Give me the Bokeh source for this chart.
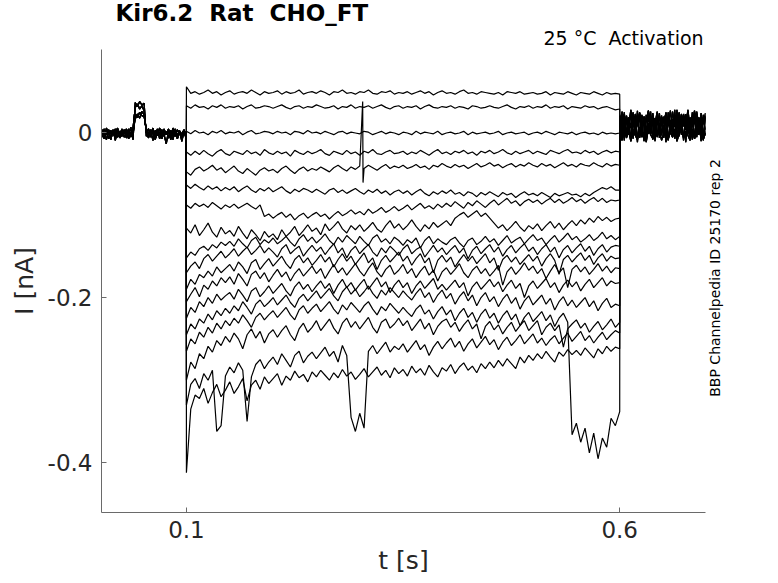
import numpy as np
from bokeh.plotting import figure
from bokeh.models import FixedTicker, LinearAxis, Range1d
from bokeh.embed import file_html
from bokeh.resources import INLINE

# ---------------- data (currents in pA) ----------------
pulse_start, pulse_end = 0.1, 0.6
x_ticks = [0.1, 0.6]
y_ticks = [0, -0.2, -0.4]
y_tick_labels = ["0", "-0.2", "-0.4"]
NB = "\u00a0"
title_text = "Kir6.2" + NB + " Rat" + NB + " CHO_FT"
note_text = "25 °C" + NB + " Activation"
side_text = "BBP Channelpedia ID 25170 rep 2"
x_label = "t [s]"
y_label = "I [nA]"

# pulse segment, samples every 5 ms from 0.100 s to 0.600 s (101 values per sweep)
tr_A = [55, 47, 49, 46, 48, 51, 47, 49, 45, 48,
        50, 46, 48, 49, 47, 51, 48, 45, 49, 47,
        48, 50, 46, 49, 47, 48, 51, 46, 48, 49,
        47, 50, 48, 45, 49, 48, 51, 47, 48, 46,
        49, 48, 51, 47, 46, 49, 48, 50, 46, 48,
        47, 49, 46, 48, 50, 47, 49, 45, 48, 50,
        47, 48, 46, 49, 51, 47, 48, 46, 49, 48,
        47, 46, 48, 45, 49, 48, 47, 49, 46, 47,
        48, 46, 47, 49, 45, 48, 47, 46, 49, 47,
        45, 48, 47, 46, 49, 47, 45, 48, 46, 47,
        46]
tr_B = [32, 29, 33, 30, 31, 28, 32, 30, 33, 29,
        31, 30, 32, 28, 31, 33, 29, 30, 32, 31,
        29, 31, 33, 30, 28, 31, 32, 29, 31, 30,
        33, 31, 29, 30, 32, 28, 31, 30, 33, 29,
        31, 30, 32, 29, 31, 33, 30, 28, 31, 32,
        29, 31, 30, 32, 28, 31, 33, 30, 29, 31,
        30, 32, 29, 31, 30, 28, 32, 31, 29, 30,
        32, 30, 29, 31, 33, 30, 28, 31, 30, 32,
        29, 31, 30, 33, 29, 31, 30, 32, 28, 31,
        30, 29, 32, 30, 31, 28, 30, 31, 29, 27,
        28]
tr_C = [1, -2, 2, -1, 0, -3, 1, -1, 2, -2,
        0, -1, 1, -3, 0, 2, -2, -1, 1, 0,
        -2, 1, -1, 0, -3, 1, 0, -2, 2, -1,
        0, -2, 1, -1, -3, 0, 1, -2, 0, -1,
        -2, 1, 0, -3, -1, 1, -2, 0, -1, -3,
        0, -1, -3, 1, -2, 0, -1, -2, 1, -3,
        -1, 0, -2, -1, 1, -3, 0, -2, -1, 0,
        -2, -1, 1, -3, -1, 0, -2, -1, 0, -3,
        -1, 0, -2, 1, -1, -3, 0, -1, -2, 0,
        -3, -1, 0, -2, -1, -3, 0, -2, -1, -2,
        -1]
tr_D = [-24, -28, -23, -27, -22, -26, -29, -24, -21, -26,
        -28, -23, -25, -27, -22, -26, -24, -28, -21, -25,
        -27, -23, -26, -24, -29, -22, -25, -27, -23, -26,
        -24, -21, -26, -28, -23, -25, -27, -22, -26, -24,
        -28, -23, -25, -21, -26, -27, -24, -22, -26, -25,
        -23, -27, -24, -26, -22, -25, -28, -24, -21, -26,
        -24, -27, -23, -25, -22, -26, -24, -28, -23, -25,
        -22, -26, -24, -21, -25, -27, -23, -26, -24, -22,
        -26, -23, -25, -27, -22, -24, -26, -23, -21, -25,
        -24, -26, -22, -25, -23, -27, -24, -22, -25, -23,
        -24]
tr_E = [-48, -52, -45, -42, -47, -44, -40, -46, -43, -49,
        -45, -41, -47, -50, -44, -48, -52, -46, -43, -47,
        -45, -49, -44, -41, -46, -50, -45, -42, -47, -44,
        -46, -42, -45, -48, -43, -40, -44, -47, -42, -45,
        -41, -44, -40, -43, -46, -42, -39, -44, -41, -43,
        -40, -44, -42, -39, -43, -41, -45, -40, -42, -38,
        -41, -43, -39, -42, -40, -44, -41, -38, -42, -40,
        -37, -41, -39, -43, -40, -38, -42, -39, -41, -37,
        -40, -42, -38, -41, -39, -43, -40, -37, -41, -39,
        -42, -38, -40, -41, -37, -40, -42, -38, -41, -39,
        -40]
tr_F = [-64, -68, -63, -67, -70, -65, -69, -66, -71, -67,
        -70, -66, -72, -68, -65, -70, -73, -68, -71, -67,
        -72, -69, -66, -71, -74, -69, -72, -68, -70, -73,
        -69, -72, -75, -70, -68, -73, -70, -74, -71, -68,
        -72, -75, -70, -73, -69, -74, -71, -76, -72, -70,
        -74, -71, -76, -72, -69, -74, -77, -72, -75, -71,
        -74, -70, -75, -73, -77, -72, -74, -78, -73, -76,
        -72, -75, -78, -73, -76, -74, -79, -75, -72, -76,
        -74, -77, -73, -76, -79, -74, -77, -75, -73, -76,
        -75, -78, -74, -77, -73, -70, -67, -69, -66, -70,
        -70]
tr_G = [-88, -92, -86, -90, -87, -91, -85, -89, -93, -88,
        -91, -87, -92, -89, -86, -90, -93, -88, -102, -99,
        -104, -100, -97, -103, -99, -106, -101, -98, -104, -100,
        -97, -102, -99, -105, -100, -96, -101, -98, -94, -99,
        -96, -100, -93, -98, -95, -91, -97, -94, -90, -95,
        -92, -88, -94, -90, -86, -92, -89, -93, -87, -91,
        -86, -90, -84, -88, -92, -85, -89, -83, -87, -91,
        -86, -82, -88, -84, -80, -86, -83, -89, -84, -81,
        -85, -82, -87, -83, -80, -85, -81, -86, -83, -79,
        -84, -81, -86, -82, -79, -84, -80, -85, -82, -83,
        -82]
tr_H = [-116, -122, -112, -125, -118, -110, -121, -127, -115, -123,
        -119, -126, -114, -122, -129, -118, -124, -131, -120, -127,
        -123, -130, -118, -126, -121, -114, -125, -119, -112, -120,
        -116, -124, -111, -119, -114, -108, -117, -122, -113, -118,
        -112, -120, -115, -109, -117, -121, -113, -107, -116, -111,
        -118, -113, -106, -114, -120, -112, -117, -109, -115, -111,
        -107, -113, -104, -100, -97, -103, -99, -95, -102, -98,
        -104, -110, -116, -112, -119, -114, -108, -115, -120, -113,
        -117, -111, -119, -113, -108, -116, -110, -118, -112, -107,
        -113, -106, -111, -104, -109, -102, -107, -103, -108, -105,
        -104]
tr_I = [-152, -145, -149, -141, -138, -143, -136, -140, -133, -137,
        -132, -138, -129, -135, -140, -131, -127, -136, -130, -134,
        -128, -135, -131, -126, -133, -138, -129, -124, -132, -127,
        -134, -129, -123, -131, -136, -127, -133, -125, -130, -135,
        -126, -132, -137, -128, -124, -133, -129, -135, -127, -131,
        -137, -130, -134, -128, -140, -131, -126, -135, -129, -133,
        -136, -130, -127, -134, -139, -131, -128, -136, -132, -126,
        -133, -129, -137, -131, -125, -134, -130, -127, -135, -129,
        -124, -131, -128, -136, -130, -125, -133, -128, -122, -130,
        -126, -133, -129, -124, -131, -127, -121, -129, -125, -130,
        -126]
tr_J = [-170, -162, -157, -165, -153, -148, -156, -150, -144, -152,
        -147, -141, -150, -144, -139, -148, -143, -137, -146, -140,
        -145, -151, -141, -136, -147, -142, -138, -150, -143, -137,
        -144, -139, -148, -141, -135, -146, -140, -152, -143, -138,
        -147, -141, -136, -145, -150, -140, -146, -138, -143, -149,
        -141, -136, -147, -142, -139, -151, -144, -137, -145, -140,
        -148, -142, -137, -146, -140, -153, -143, -138, -147, -141,
        -136, -145, -139, -150, -142, -137, -146, -140, -135, -144,
        -139, -148, -141, -136, -145, -139, -152, -142, -137, -146,
        -140, -135, -144, -138, -149, -141, -136, -145, -139, -137,
        -138]
tr_K = [-190, -178, -184, -172, -176, -168, -174, -163, -170, -165,
        -160, -168, -157, -163, -171, -158, -154, -166, -159, -153,
        -162, -156, -150, -159, -165, -154, -149, -158, -152, -161,
        -155, -148, -157, -151, -163, -154, -147, -156, -150, -160,
        -153, -146, -158, -152, -166, -155, -149, -157, -151, -145,
        -156, -150, -161, -153, -147, -158, -152, -170, -155, -149,
        -157, -151, -163, -155, -148, -156, -150, -159, -153, -147,
        -158, -152, -167, -154, -149, -157, -151, -160, -154, -148,
        -156, -150, -162, -153, -147, -155, -172, -154, -149, -157,
        -151, -146, -155, -149, -160, -152, -147, -156, -150, -153,
        -152]
tr_L = [-205, -196, -188, -199, -185, -190, -180, -186, -176, -182,
        -175, -184, -171, -178, -186, -172, -168, -177, -170, -181,
        -173, -166, -175, -169, -180, -171, -165, -174, -168, -162,
        -171, -165, -177, -168, -160, -170, -164, -173, -166, -159,
        -168, -174, -165, -158, -169, -175, -166, -161, -172, -167,
        -160, -171, -165, -176, -168, -162, -173, -167, -180, -169,
        -164, -172, -166, -159, -170, -176, -167, -162, -171, -165,
        -174, -168, -161, -185, -169, -163, -172, -166, -158, -167,
        -162, -171, -165, -177, -168, -160, -170, -164, -188, -166,
        -161, -169, -163, -172, -166, -159, -168, -162, -170, -164,
        -165]
tr_M = [-225, -212, -218, -205, -211, -200, -207, -196, -203, -198,
        -194, -202, -190, -197, -205, -192, -188, -199, -193, -186,
        -195, -189, -183, -192, -198, -187, -181, -190, -184, -193,
        -186, -180, -189, -183, -195, -185, -178, -188, -182, -191,
        -184, -178, -190, -183, -176, -187, -181, -194, -185, -179,
        -188, -182, -195, -186, -180, -189, -183, -177, -190, -184,
        -191, -185, -179, -188, -182, -198, -187, -181, -190, -184,
        -178, -187, -181, -193, -185, -179, -189, -183, -200, -186,
        -180, -189, -183, -177, -188, -182, -194, -185, -179, -187,
        -181, -192, -184, -178, -188, -182, -176, -186, -180, -183,
        -182]
tr_N = [-245, -232, -238, -226, -231, -220, -227, -216, -222, -213,
        -219, -210, -216, -205, -212, -220, -208, -203, -211, -206,
        -200, -209, -203, -197, -206, -212, -201, -196, -204, -198,
        -192, -201, -195, -189, -198, -204, -193, -187, -196, -190,
        -199, -193, -186, -195, -201, -191, -197, -188, -194, -200,
        -192, -198, -203, -195, -189, -200, -194, -206, -197, -191,
        -201, -195, -208, -199, -193, -204, -197, -210, -200, -194,
        -205, -199, -211, -202, -196, -207, -200, -214, -204, -198,
        -209, -203, -197, -208, -201, -215, -205, -199, -210, -203,
        -212, -206, -200, -211, -204, -216, -207, -201, -212, -208,
        -210]
tr_O = [-265, -250, -256, -242, -248, -236, -243, -231, -238, -228,
        -234, -225, -231, -221, -228, -236, -224, -219, -227, -221,
        -216, -224, -218, -212, -221, -227, -215, -210, -219, -213,
        -208, -217, -211, -205, -214, -220, -209, -215, -206, -212,
        -218, -210, -205, -214, -221, -211, -216, -207, -213, -219,
        -212, -218, -223, -214, -209, -220, -215, -226, -217, -211,
        -221, -215, -228, -219, -213, -224, -218, -230, -220, -214,
        -225, -219, -231, -222, -216, -227, -220, -234, -224, -218,
        -229, -223, -217, -228, -221, -235, -225, -219, -230, -366,
        -352, -375, -358, -388, -364, -395, -370, -381, -346, -355,
        -338]
tr_P = [-300, -278, -286, -268, -274, -259, -266, -252, -258, -247,
        -254, -243, -250, -262, -245, -238, -249, -241, -255, -244,
        -239, -248, -240, -234, -245, -252, -238, -231, -242, -236,
        -228, -240, -233, -226, -237, -244, -231, -225, -236, -229,
        -238, -231, -224, -236, -243, -230, -226, -237, -232, -225,
        -234, -228, -240, -233, -226, -238, -231, -245, -235, -229,
        -226, -236, -230, -241, -233, -227, -238, -232, -250, -235,
        -229, -239, -233, -244, -236, -230, -241, -234, -228, -240,
        -234, -228, -245, -236, -231, -240, -233, -260, -238, -232,
        -227, -237, -231, -242, -235, -229, -239, -233, -226, -236,
        -230]
tr_Q = [-330, -305, -298, -310, -292, -300, -288, -362, -355, -295,
        -284, -291, -279, -288, -350, -296, -281, -275, -286, -278,
        -272, -281, -268, -276, -284, -270, -265, -279, -271, -266,
        -274, -267, -260, -271, -265, -278, -258, -270, -345, -362,
        -340, -358, -265, -258, -268, -261, -254, -266, -259, -263,
        -256, -266, -259, -252, -263, -257, -270, -260, -253, -262,
        -255, -249, -260, -253, -265, -256, -250, -261, -254, -247,
        -257, -251, -263, -254, -248, -258, -252, -245, -256, -250,
        -244, -255, -249, -258, -251, -246, -256, -249, -243, -253,
        -247, -241, -252, -246, -255, -248, -242, -251, -245, -240,
        -243]
tr_R = [-412, -335, -318, -322, -310, -328, -315, -305, -320, -312,
        -302, -316, -308, -298, -325, -306, -300, -311, -296, -304,
        -298, -292, -306, -295, -300, -289, -297, -293, -302, -290,
        -296, -288, -294, -300, -291, -297, -287, -295, -290, -299,
        -293, -286, -296, -290, -284, -294, -288, -297, -285, -292,
        -287, -295, -283, -291, -286, -294, -282, -290, -296, -285,
        -289, -281, -292, -284, -279, -288, -283, -291, -280, -286,
        -278, -285, -276, -283, -274, -280, -286, -272, -279, -270,
        -276, -268, -274, -265, -272, -278, -266, -271, -263, -269,
        -264, -270, -261, -267, -273, -262, -268, -259, -265, -260,
        -262]
sweeps_pA = [tr_A, tr_B, tr_C, tr_D, tr_E, tr_F, tr_G, tr_H, tr_I,
             tr_J, tr_K, tr_L, tr_M, tr_N, tr_O, tr_P, tr_Q, tr_R]

# brief artefact in sweep E near t = 0.304 s
spike_sweep = [4, 4]
spike_t = [0.3034, 0.3038]
spike_pA = [37, -61]

# holding segment before the pulse (0 - 0.1 s), with the short test step
pre_1 = [-2, 3, -5, 1, -8, 2, -3, 4, -6, 0, -4, 3, -7, 1, -2, 5, 30, 34, 28, 32,
         26, -1, 4, -6, 2, -9, 0, -3, 3, -5, 1, -7, 2, -4, 4, -8, 0, -2, 3, -5]
pre_2 = [1, -6, 4, -3, 0, -9, 2, -4, 5, -7, 1, -2, 4, -8, 0, -3, 22, 18, 24, 20,
         19, 3, -5, 1, -10, 2, -4, 5, -6, 0, -3, 4, -9, 1, -5, 3, -2, -7, 2, -4]
pre_3 = [-4, 0, -8, 5, -2, -6, 3, -10, 1, -3, 4, -6, 0, -4, 6, -9, 36, 31, 37, 33,
         35, -5, 0, -3, 5, -7, 2, -1, -8, 4, -3, 1, -6, 5, -2, -4, 2, -11, 1, -6]
pre_4 = [2, -5, -1, -9, 3, -2, 0, -7, 4, -1, -5, 2, -3, 4, -6, 1, 16, 22, 17, 25,
         21, 0, -7, 3, -2, -4, 4, -8, 1, -3, -14, 2, -1, -9, 3, -4, 1, -5, 0, -8]
pre_segments = [pre_1, pre_2, pre_3, pre_4]

# tail segment after the pulse (0.6 - 0.7 s)
post_1 = [20, -8, 24, -5, 18, -10, 22, -3, 26, -7, 15, -11, 21, -2, 25, -9, 17, -6, 23, -4,
          19, -12, 24, -1, 16, -8, 27, -5, 20, -10, 22, -3, 18, -9, 25, -6, 14, -11, 21, -4]
post_2 = [-6, 21, -10, 17, -3, 25, -8, 19, -12, 23, -5, 16, -9, 26, -2, 20, -11, 22, -7, 18,
          -4, 24, -10, 15, -6, 27, -9, 19, -3, 21, -12, 17, -5, 24, -8, 20, -1, 23, -10, 18]
post_3 = [8, 2, 14, -4, 10, 5, 17, 0, 12, -2, 9, 15, 3, 11, -3, 13, 6, 18, 1, 10,
          7, -1, 16, 4, 12, -5, 9, 14, 2, 11, 6, 19, 0, 8, 13, -2, 10, 5, 15, 3]
post_4 = [12, 25, 4, 20, 9, 27, 6, 22, 11, 24, 3, 19, 13, 26, 7, 21, 10, 25, 5, 18,
          14, 23, 8, 26, 2, 20, 11, 24, 6, 22, 9, 27, 4, 19, 12, 25, 7, 21, 10, 23]
post_5 = [-2, -10, 5, -7, 1, -11, 3, -4, -9, 6, -6, 0, -12, 4, -3, -8, 7, -5, 2, -10,
          -1, 5, -9, 0, -6, 3, -11, -2, 6, -7, 1, -4, -10, 4, -8, 0, -3, 5, -9, -1]
post_6 = [16, 4, 22, -1, 13, 8, 24, 2, 18, -6, 21, 10, 0, 17, 7, 23, -3, 14, 5, 20,
          -7, 19, 11, 1, 25, 6, 15, -4, 22, 9, 3, 17, -8, 12, 26, 0, 18, 8, -5, 20]
post_segments = [post_1, post_2, post_3, post_4, post_5, post_6]

# ---------------- build sweeps ----------------
xs, ys = [], []
for i, sw in enumerate(sweeps_pA):
    pre = pre_segments[i % len(pre_segments)]
    post = post_segments[i % len(post_segments)]
    t_pre = np.linspace(0.0, pulse_start - 0.0002, len(pre))
    t_pul = np.linspace(pulse_start, pulse_end, len(sw))
    t_post = np.linspace(pulse_end + 0.0002, 0.699, len(post))
    t = np.concatenate([t_pre, t_pul, t_post])
    v = np.concatenate([np.array(pre, float), np.array(sw, float), np.array(post, float)])
    extra_t = [st for s, st in zip(spike_sweep, spike_t) if s == i]
    extra_v = [sv for s, sv in zip(spike_sweep, spike_pA) if s == i]
    if extra_t:
        t = np.concatenate([t, extra_t])
        v = np.concatenate([v, extra_v])
        order = np.argsort(t, kind="stable")
        t, v = t[order], v[order]
    xs.append(list(t))
    ys.append(list(v / 1000.0))  # pA -> nA

# ---------------- figure ----------------
FONT = "DejaVu Sans"
AX = "#6a6a6a"
TXT = "#262626"
p = figure(width=770, height=582, output_backend="svg", toolbar_location=None,
           x_range=Range1d(0.002, 0.699), y_range=Range1d(-0.46, 0.1),
           min_border_left=101, min_border_right=65, min_border_top=44, min_border_bottom=70)
p.outline_line_color = None
p.grid.visible = False
p.background_fill_color = "white"
p.border_fill_color = "white"

p.multi_line(xs, ys, line_color="black", line_width=1.2)

for ax in (p.xaxis[0], p.yaxis[0]):
    ax.axis_line_color = AX
    ax.major_tick_line_color = AX
    ax.major_tick_in = 5
    ax.major_tick_out = 0
    ax.minor_tick_line_color = None
    ax.major_label_text_font = FONT
    ax.major_label_text_font_size = "23px"
    ax.major_label_text_color = TXT
    ax.axis_label_text_font = FONT
    ax.axis_label_text_font_size = "25px"
    ax.axis_label_text_font_style = "normal"
    ax.axis_label_text_color = TXT

p.xaxis.ticker = FixedTicker(ticks=x_ticks)
p.xaxis.major_label_standoff = 8
p.xaxis.axis_label = x_label
p.xaxis.axis_label_standoff = 5
p.yaxis.ticker = FixedTicker(ticks=y_ticks)
p.yaxis.major_label_overrides = {tv: tl for tv, tl in zip(y_ticks, y_tick_labels)}
p.yaxis.major_label_standoff = 9
p.yaxis.axis_label = y_label
p.yaxis.axis_label_standoff = 6

# title
p.title.text = title_text
p.title.align = "left"
p.title.offset = 14
p.title.text_font = FONT
p.title.text_font_size = "23px"
p.title.text_font_style = "bold"
p.title.text_color = "black"
p.title.standoff = -5

# note at the top right, drawn as the single label of a bare top axis
note_pos = [0.6044]
top_ax = LinearAxis(ticker=FixedTicker(ticks=note_pos),
                    major_label_overrides={note_pos[0]: note_text})
top_ax.axis_line_color = None
top_ax.major_tick_line_color = None
top_ax.minor_tick_line_color = None
top_ax.major_label_text_font = FONT
top_ax.major_label_text_font_size = "19px"
top_ax.major_label_text_color = "black"
top_ax.major_label_standoff = -5
p.add_layout(top_ax, "above")

# vertical source note on the right, as the single label of a bare right axis
# (the label starts at this level and runs upwards)
side_pos = [-0.32]
right_ax = LinearAxis(ticker=FixedTicker(ticks=side_pos),
                      major_label_overrides={side_pos[0]: side_text})
right_ax.axis_line_color = None
right_ax.major_tick_line_color = None
right_ax.minor_tick_line_color = None
right_ax.major_label_text_font = FONT
right_ax.major_label_text_font_size = "14px"
right_ax.major_label_text_color = "black"
right_ax.major_label_orientation = np.pi / 2
right_ax.major_label_standoff = 3
p.add_layout(right_ax, "right")

open("out.html", "w").write(file_html(p, INLINE))
